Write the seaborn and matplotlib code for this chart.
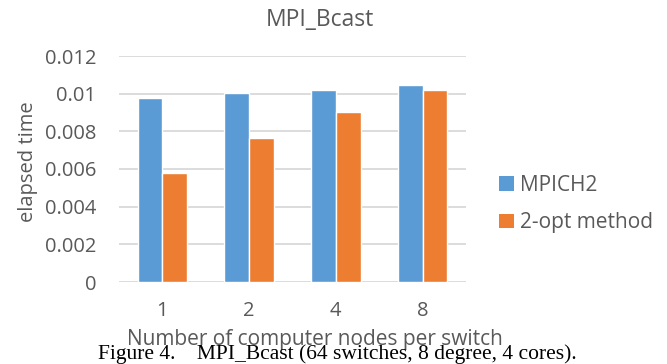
import matplotlib
matplotlib.use("Agg")
import matplotlib.pyplot as plt
import seaborn as sns
import pandas as pd
from matplotlib.patches import Patch

# Data
nodes_per_switch = ["1", "2", "4", "8"]
mpich2 = [0.00978, 0.01001, 0.01022, 0.01045]
two_opt = [0.00577, 0.00764, 0.00902, 0.01017]
series_names = ["MPICH2", "2-opt method"]
y_ticks = [0, 0.002, 0.004, 0.006, 0.008, 0.01, 0.012]
y_tick_labels = ["0", "0.002", "0.004", "0.006", "0.008", "0.01", "0.012"]

colors = ["#5B9BD5", "#ED7D31"]
text_color = "#595959"
grid_color = "#D9D9D9"

df = pd.DataFrame({
    "nodes": nodes_per_switch * 2,
    "time": mpich2 + two_opt,
    "series": [series_names[0]] * len(mpich2) + [series_names[1]] * len(two_opt),
})

sns.set_theme(style="white")
plt.rcParams["font.family"] = ["Open Sans", "DejaVu Sans"]

W, H = 667, 364
fig = plt.figure(figsize=(W / 100, H / 100), dpi=100)
ax = fig.add_axes([119 / W, (H - 282) / H, (466 - 119) / W, (282 - 56) / H])

sns.barplot(data=df, x="nodes", y="time", hue="series", order=nodes_per_switch,
            hue_order=series_names, palette=colors, width=0.57, gap=0,
            saturation=1, ax=ax, legend=False, zorder=3)

ax.set_xlim(-0.5, 3.5)
ax.set_ylim(0, 0.012)
ax.set_yticks(y_ticks)
ax.set_yticklabels(y_tick_labels)
ax.yaxis.grid(True, color=grid_color, lw=1.3, zorder=0)
ax.set_axisbelow(True)
for s in ax.spines.values():
    s.set_visible(False)
ax.tick_params(axis="both", length=0, colors=text_color, labelsize=14.5)
ax.tick_params(axis="y", pad=16.5)
ax.tick_params(axis="x", pad=14)

ax.set_xlabel("")
ax.set_ylabel("")
fig.text(28 / W, 1 - 162 / H, "elapsed time", rotation=90, ha="center", va="center",
         color=text_color, fontsize=14.5)
fig.text(315 / W, 1 - 345 / H, "Number of computer nodes per switch", ha="center",
         va="baseline", color=text_color, fontsize=15)
fig.text(320 / W, 1 - 26 / H, "MPI_Bcast", ha="center", va="baseline",
         color=text_color, fontsize=16.5)
fig.text(337 / W, 1 - 359 / H, "Figure 4.    MPI_Bcast (64 switches, 8 degree, 4 cores).",
         ha="center", va="baseline", color="black", fontsize=15.5,
         family=["Liberation Serif", "DejaVu Serif"])

handles = [Patch(facecolor=c, edgecolor="none") for c in colors]
fig.legend(handles, series_names, loc="center left",
           bbox_to_anchor=(499 / W, 1 - 204 / H), frameon=False,
           borderpad=0, borderaxespad=0,
           handlelength=0.7, handleheight=0.7, handletextpad=0.3,
           labelspacing=0.8, fontsize=15, labelcolor=text_color)

fig.savefig("out.png", dpi=100)
